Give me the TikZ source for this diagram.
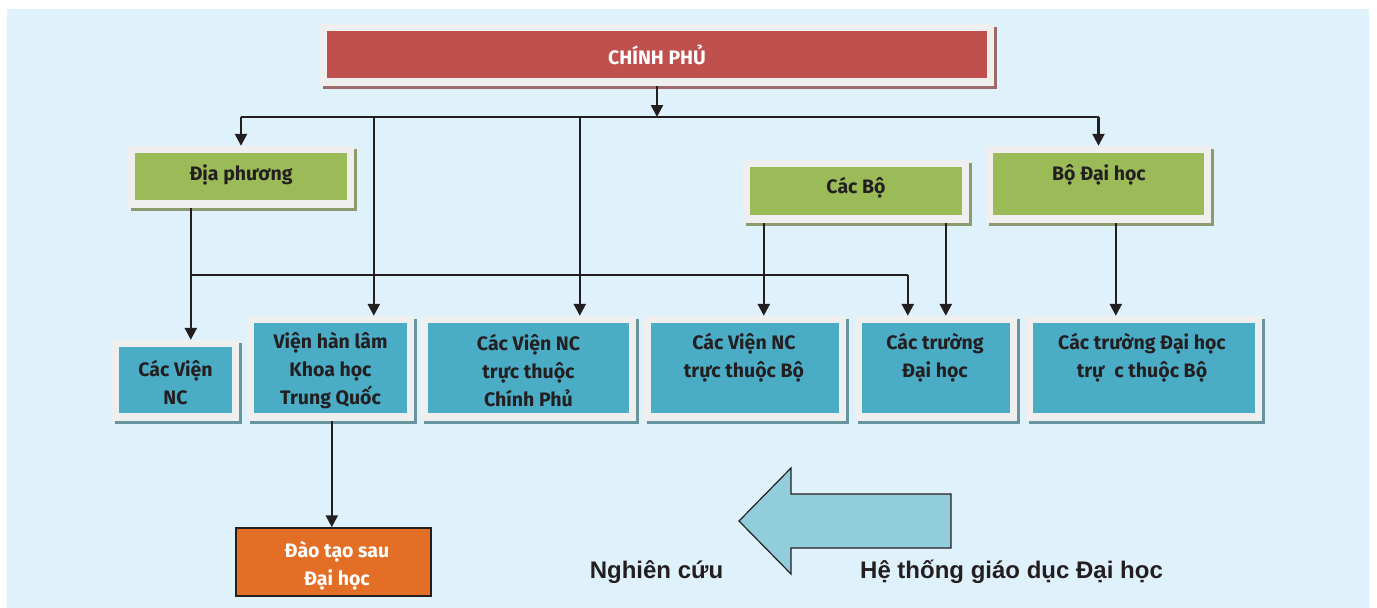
\documentclass[tikz,border=0pt]{standalone}
\usepackage{fontspec}
\setmainfont{Fira Sans}
\newfontfamily\arialf{Liberation Sans}
\usetikzlibrary{arrows.meta,shadows,calc}
\definecolor{bgc}{HTML}{DFF1FB}
\definecolor{frc}{HTML}{EFEFEF}
\definecolor{redc}{HTML}{C0504D}
\definecolor{grc}{HTML}{9BBB59}
\definecolor{blc}{HTML}{4BACC6}
\definecolor{orc}{HTML}{E36F26}
\definecolor{arc}{HTML}{92CDDC}
\definecolor{ink}{HTML}{231F20}
\newcommand\obox[6]{%
  \node[frm, drop shadow={shadow xshift=3pt, shadow yshift=-3pt, opacity=1, fill=#6!45!gray}, minimum width={(#4)-(#2)}, minimum height={(#5)-(#3)}] (#1) at ({((#2)+(#4))/2},{((#3)+(#5))/2}) {};
  \fill[#6] ({(#2)+7},{(#3)+7}) rectangle ({(#4)-7},{(#5)-8});
}
\begin{document}
\begin{tikzpicture}[x=1pt, y=-1pt,
  frm/.style={rectangle, fill=frc, draw=none, inner sep=0pt},
  arr/.style={draw=ink, line width=2.4pt, -{Triangle[length=12pt,width=12pt]}},
  ln/.style={draw=ink, line width=2.2pt},
  bt/.style={font=\bfseries\fontsize{19.5}{28}\selectfont, text=ink, align=center, inner sep=0pt},
  lbl/.style={font=\arialf\bfseries\fontsize{24}{28}\selectfont, text=ink, inner sep=0pt}]
\useasboundingbox (0,0) rectangle (1377,608);
\fill[bgc] (7,9) rectangle (1369,608);

\obox{gov}{320}{24}{994}{86}{redc}
\obox{dia}{128}{146}{354}{208}{grc}
\obox{cacbo}{743}{160}{969}{223}{grc}
\obox{bodh}{986}{146}{1211}{223}{grc}
\obox{vnc}{112}{340}{239}{421}{blc}
\obox{vien}{247}{316}{414}{421}{blc}
\obox{vcp}{421}{316}{636}{421}{blc}
\obox{vbo}{644}{316}{846}{421}{blc}
\obox{truong}{855}{316}{1017}{421}{blc}
\obox{truongbo}{1026}{316}{1262}{421}{blc}
\node[draw=ink, line width=1.5pt, fill=orc, minimum width=195, minimum height=68, inner sep=0pt] (dao) at (333.5,562) {};

\node[bt, text=white] (govt) at (657,55) {CHÍNH PHỦ};
\node[bt] (diat) at (241,175) {Địa phương};
\node[bt] (cacbot) at (856,188) {Các Bộ};
\node[bt] (bodht) at (1099,175) {Bộ Đại học};
\node[bt] (vnct) at (175.5,382.5) {Các Viện\\NC};
\node[bt] (vient) at (330.5,370.5) {Viện hàn lâm\\Khoa học\\Trung Quốc};
\node[bt] (vcpt) at (528.5,371) {Các Viện NC\\trực thuộc\\Chính Phủ};
\node[bt] (vbot) at (744,358) {Các Viện NC\\trực thuộc Bộ};
\node[bt] (truongt) at (935,357.5) {Các trường\\Đại học};
\node[bt] (truongbot) at (1142,357.5) {Các trường Đại học\\trự\hspace{0.5em}c thuộc Bộ};
\node[bt, text=white] (daot) at (337,565.5) {Đào tạo sau\\Đại học};

\filldraw[fill=arc, draw=ink, line width=1.2pt] (739,521) -- (791,468) -- (791,494) -- (951,494) -- (951,548) -- (791,548) -- (791,574) -- cycle;
\node[lbl, anchor=base] (nc) at (656.5,578) {Nghiên cứu};
\node[lbl, anchor=base] (ht) at (1011.5,578) {Hệ thống giáo dục Đại học};

\coordinate (bus) at (657,117);
\coordinate (jn) at (191,275);
\coordinate (p1) at ([xshift=127pt]vien.north west);
\coordinate (p2) at ([xshift=159pt]vcp.north west);
\coordinate (p3) at ([xshift=63pt]dia.south west);
\coordinate (p4) at ([xshift=79pt]vnc.north west);
\coordinate (p5) at ([xshift=53pt]truong.north west);
\coordinate (p6) at ([xshift=91pt]truong.north west);
\coordinate (p7) at ([xshift=21pt]cacbo.south west);
\coordinate (p8) at ([xshift=203pt]cacbo.south west);
\coordinate (p9) at ([xshift=120pt]vbo.north west);
\coordinate (p10) at ([xshift=130pt]bodh.south west);
\coordinate (p11) at ([xshift=90pt]truongbo.north west);
\coordinate (p12) at ([xshift=85pt]vien.south west);

\draw[arr] (gov.south) -- (gov.south |- bus);
\draw[ln] (dia.north |- bus) -- (bodh.north |- bus);
\draw[arr] (dia.north |- bus) -- (dia.north);
\draw[arr] (p1 |- bus) -- (p1);
\draw[arr] (p2 |- bus) -- (p2);
\draw[arr] (bodh.north |- bus) -- (bodh.north);
\draw[arr] (p3) -- (p4);
\draw[ln] (jn) -- (p5 |- jn);
\draw[arr] (p5 |- jn) -- (p5);
\draw[arr] (p7) -- (p9);
\draw[arr] (p8) -- (p6);
\draw[arr] (p10) -- (p11);
\draw[arr] (p12) -- (p12 |- dao.north);
\end{tikzpicture}
\end{document}
